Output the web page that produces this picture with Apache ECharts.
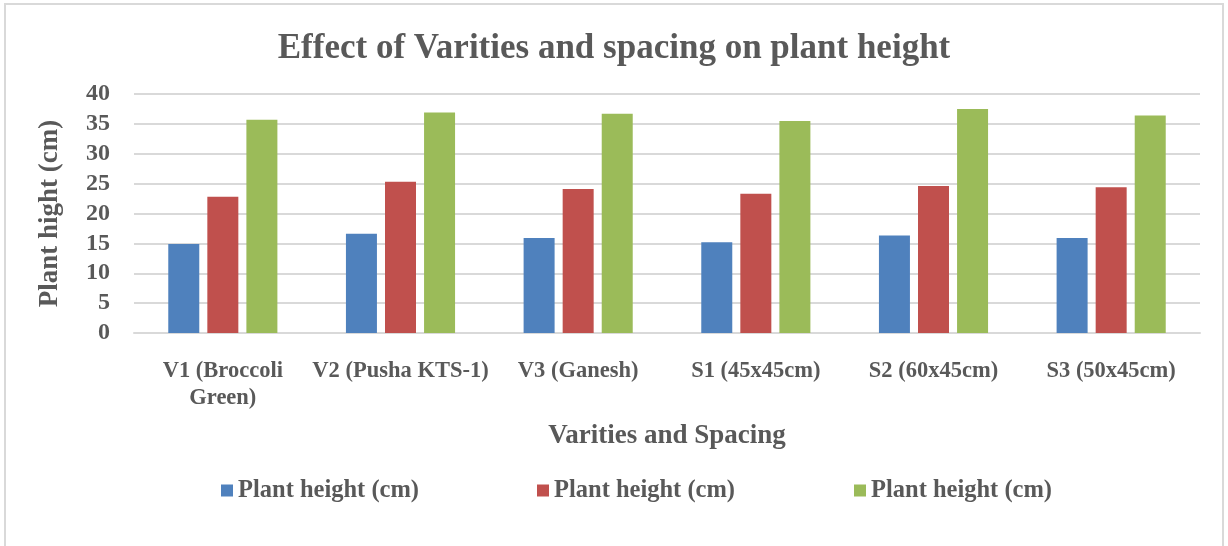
<!DOCTYPE html>
<html>
<head>
<meta charset="utf-8">
<script src="https://cdn.jsdelivr.net/npm/echarts@6/dist/echarts.min.js"></script>
<style>
html,body{margin:0;padding:0;background:#fff;}
#frame{position:absolute;left:4px;top:3px;width:1220px;height:560px;border:2px solid #d9d9d9;box-sizing:border-box;}
#chart{position:absolute;left:0;top:0;width:1228px;height:546px;}
</style>
</head>
<body>
<div id="frame"></div>
<div id="chart"></div>
<script>
const categories = ['V1 (Broccoli\nGreen)', 'V2 (Pusha KTS-1)', 'V3 (Ganesh)', 'S1 (45x45cm)', 'S2 (60x45cm)', 'S3 (50x45cm)'];
const seriesA = [14.9, 16.6, 15.9, 15.2, 16.3, 15.9];
const seriesB = [22.8, 25.3, 24.1, 23.3, 24.6, 24.4];
const seriesC = [35.7, 36.9, 36.7, 35.5, 37.5, 36.4];
const yTicks = [0, 5, 10, 15, 20, 25, 30, 35, 40];
const legendLabel = 'Plant height (cm)';
const seriesNames = ['Plant height (cm)#1', 'Plant height (cm)#2', 'Plant height (cm)#3'];
const colors = ['#4F81BD', '#C0504D', '#9BBB59'];

const FONT = '"Liberation Serif", "Times New Roman", serif';
const TXT = '#595959';

const chart = echarts.init(document.getElementById('chart'));
const mkLegend = (i, left) => ({
  left: left, top: 473, data: [seriesNames[i]], icon: 'rect', itemWidth: 12, itemHeight: 12, itemGap: 6,
  formatter: () => legendLabel, selectedMode: false,
  textStyle: {fontFamily: FONT, fontWeight: 'bold', fontSize: 24.5, color: TXT}
});
const mkSeries = (i, data) => ({
  name: seriesNames[i], type: 'bar', data: data, barWidth: 31, barGap: '26%',
  itemStyle: {color: colors[i]}
});
chart.setOption({
  animation: false,
  title: {
    text: 'Effect of Varities and spacing on plant height', left: 'center', top: 26,
    textStyle: {fontFamily: FONT, fontWeight: 'bold', fontSize: 35, color: TXT}
  },
  legend: [mkLegend(0, 216), mkLegend(1, 532), mkLegend(2, 849)],
  grid: {left: 134, right: 28, top: 94, bottom: 213, containLabel: false},
  xAxis: {
    type: 'category', data: categories,
    name: 'Varities and Spacing', nameLocation: 'middle', nameGap: 90,
    nameTextStyle: {fontFamily: FONT, fontWeight: 'bold', fontSize: 27, color: TXT},
    axisLine: {lineStyle: {color: '#d9d9d9', width: 2}},
    axisTick: {show: false},
    axisLabel: {fontFamily: FONT, fontWeight: 'bold', fontSize: 22.5, color: TXT, margin: 25, lineHeight: 27, interval: 0}
  },
  yAxis: {
    type: 'value', min: 0, max: 40, interval: 5,
    name: 'Plant hight (cm)', nameLocation: 'middle', nameGap: 70, nameRotate: 90,
    nameTextStyle: {fontFamily: FONT, fontWeight: 'bold', fontSize: 27, color: TXT},
    axisLine: {show: false}, axisTick: {show: false},
    axisLabel: {fontFamily: FONT, fontWeight: 'bold', fontSize: 24, color: TXT, margin: 24,
      formatter: v => yTicks.includes(v) ? String(v) : ''},
    splitLine: {lineStyle: {color: '#d9d9d9', width: 2}}
  },
  series: [mkSeries(0, seriesA), mkSeries(1, seriesB), mkSeries(2, seriesC)]
});
</script>
</body>
</html>
